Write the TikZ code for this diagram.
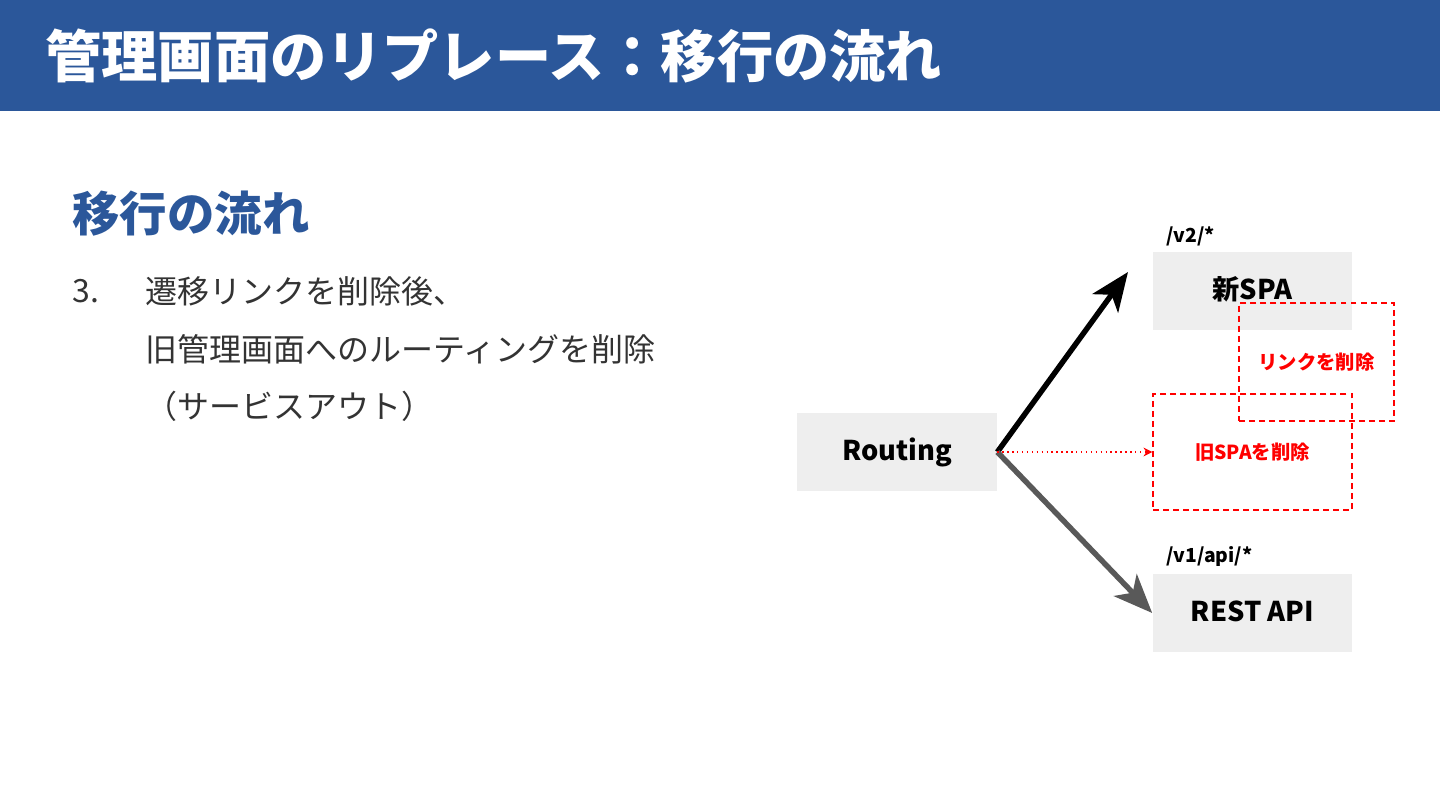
\documentclass[tikz,border=0pt]{standalone}
\usepackage{fontspec}
\setmainfont{Noto Sans CJK JP}
\usetikzlibrary{arrows.meta}
\definecolor{azul}{HTML}{2B579A}
\definecolor{gris}{HTML}{EEEEEE}
\definecolor{grisoscuro}{HTML}{595959}
\definecolor{rojo}{HTML}{FF0000}
\definecolor{texto}{HTML}{333333}
\begin{document}
\begin{tikzpicture}[x=0.02cm, y=-0.02cm,
        bloque/.style={fill=gris, minimum width=4cm, minimum height=1.56cm,
        text height=2.1ex, text depth=0.4ex, font=\fontsize{15.5}{18}\selectfont\bfseries},
        borrado/.style={draw=rojo, line width=0.85pt, dash pattern=on 3.4pt off 2.3pt,
        text=rojo, font=\fontsize{11}{13}\selectfont\bfseries},
        ruta/.style={anchor=west, inner sep=0, font=\fontsize{11}{13}\selectfont\bfseries},
        lista/.style={anchor=west, inner sep=0, text=texto, font=\fontsize{18.2}{20}\selectfont},
        flecha/.style={line width=3.1pt, -{Stealth[length=22pt, width=18pt, inset=6pt]}}
    ]
        \useasboundingbox (0,0) rectangle (1440,810);
        % cabecera
        \fill[azul] (0,0) rectangle (1440,111);
        \node[anchor=west, inner sep=0, text=white, font=\fontsize{32}{36}\selectfont\bfseries]
            (titulo) at (45,56) {管理画面のリプレース：移行の流れ};
        \node[anchor=west, inner sep=0, text=azul, font=\fontsize{27}{30}\selectfont\bfseries]
            (subtitulo) at (72,214) {移行の流れ};
        \node[lista] (num) at (72,291) {3.};
        \node[lista] (linea1) at (145,291) {遷移リンクを削除後、};
        \node[lista] (linea2) at (145,349) {旧管理画面へのルーティングを削除};
        \node[lista] (linea3) at (145,406) {（サービスアウト）};
        % diagrama
        \node[bloque] (routing) at (897,452) {Routing};
        \node[bloque] (nuevo) at (1252.5,291) {新SPA};
        \node[bloque] (api) at (1252.5,613) {REST API};
        \node[ruta] (v2) at (1166,236) {/v2/*};
        \node[ruta] (v1) at (1166,556) {/v1/api/*};
        \node[borrado, minimum width=3.1cm, minimum height=2.36cm] (enlace) at (1316.5,362) {リンクを削除};
        \node[borrado, minimum width=3.98cm, minimum height=2.32cm] (viejo) at (1252.5,452) {旧SPAを削除};
        \coordinate (destino) at (1128,272);
        \draw[flecha] (routing.east) -- (destino);
        \draw[flecha, grisoscuro] (routing.east) -- (api.west);
        \draw[rojo, line width=0.8pt, dotted, -{Stealth[length=5pt, width=5pt]}] (routing.east) -- (viejo.west);
    \end{tikzpicture}
\end{document}
